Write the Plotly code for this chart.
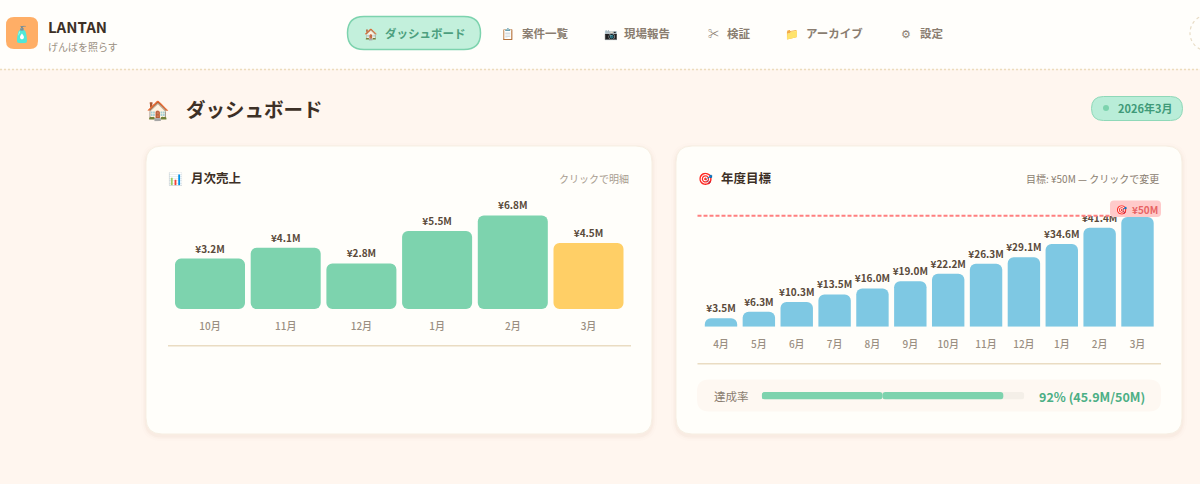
import plotly.graph_objects as go

W = 1200
H = 484
FONT = "Noto Sans CJK JP"

# monthly sales (left card)
sales_months = ["10月", "11月", "12月", "1月", "2月", "3月"]
sales_values = [3.2, 4.1, 2.8, 5.5, 6.8, 4.5]

# cumulative sales against the yearly target (right card)
goal_months = ["4月", "5月", "6月", "7月", "8月", "9月", "10月", "11月", "12月", "1月", "2月", "3月"]
goal_values = [3.5, 6.3, 10.3, 13.5, 16.0, 19.0, 22.2, 26.3, 29.1, 34.6, 41.4, 45.9]

achievement_rate = 92

nav_items = ["案件一覧", "現場報告", "検証", "アーカイブ", "設定"]
nav_icons = ["📋", "📷", "✂", "📁", "⚙"]
nav_text_x = [520, 622, 725, 804, 918]
nav_icon_x = [508, 611, 713, 792, 906]

GREEN = "#7dd3ae"
YELLOW = "#ffcf66"
BLUE = "#7ec8e3"
DARK = "#3d3026"
LABEL = "#5a4a3a"
MUTED = "#8a7d70"
LIGHT = "#a89c90"
CARD = "#fffefa"

# the bars in the left card all carry a fixed minimum height
SALES_FLOOR = 1.0


def px(x):
    return x / W


def py(y):
    return 1 - y / H


def rrect(x0, y0, x1, y1, r):
    return (f"M{px(x0 + r)},{py(y0)} L{px(x1 - r)},{py(y0)} Q{px(x1)},{py(y0)} {px(x1)},{py(y0 + r)} "
            f"L{px(x1)},{py(y1 - r)} Q{px(x1)},{py(y1)} {px(x1 - r)},{py(y1)} "
            f"L{px(x0 + r)},{py(y1)} Q{px(x0)},{py(y1)} {px(x0)},{py(y1 - r)} "
            f"L{px(x0)},{py(y0 + r)} Q{px(x0)},{py(y0)} {px(x0 + r)},{py(y0)} Z")


def box(x0, y0, x1, y1, r, fill, line=None, width=1, layer="below"):
    return dict(type="path", path=rrect(x0, y0, x1, y1, r), xref="paper", yref="paper", layer=layer,
                fillcolor=fill, line=dict(color=line or "rgba(0,0,0,0)", width=width if line else 0))


def hline(x0, x1, y, color, width, dash="solid", layer="below"):
    return dict(type="line", xref="paper", yref="paper", x0=px(x0), x1=px(x1), y0=py(y), y1=py(y),
                layer=layer, line=dict(color=color, width=width, dash=dash))


def label(x, y, text, size, color, weight=400, anchor="left"):
    return dict(x=px(x), y=py(y), xref="paper", yref="paper", text=text, showarrow=False, xanchor=anchor,
                yanchor="middle", font=dict(family=FONT, size=size, color=color, weight=weight))


shapes = []
for card_x0, card_x1 in [(146, 652), (676, 1182)]:
    for grow, alpha in [(5, 0.012), (3, 0.02), (1.5, 0.03)]:
        shapes.append(box(card_x0 - grow, 146 - grow + 2, card_x1 + grow, 434 + grow + 2, 16 + grow,
                          f"rgba(150,110,60,{alpha})"))
    shapes.append(box(card_x0, 146, card_x1, 434, 16, CARD, "#f7efe3", 1))

# header band
shapes.append(dict(type="rect", xref="paper", yref="paper", x0=0, x1=1, y0=py(69), y1=1, layer="below",
                   fillcolor="#fffefb", line=dict(width=0)))
shapes.append(hline(0, 1200, 69.5, "#ecdcbc", 1.5, "2px,2px"))
shapes.append(box(6, 17, 38, 49, 8, "#ffae66"))
shapes.append(box(347.5, 16.5, 480.5, 49.5, 16.5, "#c3f0dc", GREEN, 1.5))
shapes.append(dict(type="circle", xref="paper", yref="paper", x0=px(1190), x1=px(1226), y0=py(51), y1=py(15),
                   layer="below", line=dict(color="#e8dcc6", width=1.2, dash="3px,3px")))
shapes.append(box(1091.5, 96.5, 1182.5, 120.5, 12, "#b9edd8", "#8fd8b8", 1))
shapes.append(dict(type="circle", xref="paper", yref="paper", x0=px(1103), x1=px(1109), y0=py(111), y1=py(105),
                   layer="below", fillcolor=GREEN, line=dict(width=0)))

# dividers and the progress row
shapes.append(hline(168, 631, 345.7, "#eadcc2", 1.5))
shapes.append(hline(697.5, 1161, 363.7, "#eadcc2", 1.5))
shapes.append(box(697, 379.5, 1161, 411.5, 12, "#fef8f2"))

# target line sits in its own overlay in the page, above the bars and their labels
shapes.append(dict(type="rect", xref="paper", yref="paper", x0=px(697), x1=px(1162), y0=py(216), y1=py(205),
                   layer="above", fillcolor=CARD, line=dict(width=0)))
shapes.append(hline(697.5, 1110, 215.7, "#ff8080", 2, "4px,2px", layer="above"))
shapes.append(box(1110, 200.5, 1161, 217, 4, "#ffcaca", layer="above"))

annotations = [
    label(22, 33, "🧴", 16, DARK, anchor="center"),
    label(46, 26, "LANTAN", 15, DARK, 700),
    label(46, 46, "げんばを照らす", 10, "#9a8f82"),
    label(371, 33, "🏠", 11, DARK, anchor="center"),
    label(383, 33, "ダッシュボード", 11.5, "#4c9f7e", 700),
    label(158, 108, "🏠", 19, DARK, anchor="center"),
    label(184, 108, "ダッシュボード", 19.5, DARK, 700),
    label(1116, 108, "2026年3月", 11, "#3f9a78", 700),
    label(175, 177, "📊", 12, DARK, anchor="center"),
    label(189, 177, "月次売上", 12.5, DARK, 700),
    label(631, 178, "クリックで明細", 10, LIGHT, anchor="right"),
    label(705, 177, "🎯", 12, DARK, anchor="center"),
    label(719, 177, "年度目標", 12.5, DARK, 700),
    label(1161, 178, "目標: ¥50M — クリックで変更", 10, MUTED, anchor="right"),
    label(1121, 209, "🎯", 9, "#e86464", anchor="center"),
    label(1130, 209, "¥50M", 10, "#e86464", 700),
    label(712, 396, "達成率", 11.5, MUTED),
    label(1146.5, 396, f"{achievement_rate}% (45.9M/50M)", 12.5, "#4caf85", 700, "right"),
]
for text, x, icon, icon_x in zip(nav_items, nav_text_x, nav_icons, nav_icon_x):
    annotations.append(label(x, 33, text, 11.5, MUTED, 700))
    annotations.append(label(icon_x, 33, icon, 11, MUTED, anchor="center"))

fig = go.Figure()

fig.add_trace(go.Bar(
    x=sales_months,
    y=[v + SALES_FLOOR for v in sales_values],
    base=-SALES_FLOOR,
    text=[f"¥{v:.1f}M" for v in sales_values],
    marker=dict(color=[GREEN] * (len(sales_values) - 1) + [YELLOW], cornerradius=6, line=dict(width=0)),
    xaxis="x", yaxis="y"))

fig.add_trace(go.Bar(
    x=goal_months,
    y=goal_values,
    text=[f"¥{v:.1f}M" for v in goal_values],
    marker=dict(color=BLUE, cornerradius=6, line=dict(width=0)),
    xaxis="x2", yaxis="y2"))

fig.update_traces(textposition="outside", cliponaxis=False, textangle=0, constraintext="none",
                  textfont=dict(family=FONT, size=10, color=LABEL, weight=700))

# progress track and fill, each built from two halves so that both ends come out round
for total, color in [(100, "#f4efe8"), (achievement_rate, GREEN)]:
    fig.add_trace(go.Bar(y=["達成率", "達成率"], x=[total / 2, -total / 2], base=[total / 2, total / 2],
                         orientation="h", width=1, marker=dict(color=color, cornerradius=4, line=dict(width=0)),
                         xaxis="x3", yaxis="y3"))

hidden = dict(visible=False, fixedrange=True)
ticks = dict(ticks="outside", ticklen=8, tickcolor="rgba(0,0,0,0)", showgrid=False, zeroline=False, showline=False,
             tickfont=dict(family=FONT, size=10, color="#9a8f82", weight=500), type="category", tickangle=0)

fig.update_layout(
    width=W, height=H, margin=dict(l=0, r=0, t=0, b=0), autosize=False,
    paper_bgcolor="#fff6ef", plot_bgcolor="rgba(0,0,0,0)",
    showlegend=False, barmode="overlay", bargap=0.075,
    shapes=shapes, annotations=annotations,
    xaxis=dict(domain=[px(172.15), px(626.35)], anchor="y", **ticks),
    yaxis=dict(domain=[py(309), py(190)], anchor="x", range=[-SALES_FLOOR, 8.92], **hidden),
    xaxis2=dict(domain=[px(702.07), px(1156.43)], anchor="y2", **ticks),
    yaxis2=dict(domain=[py(326.7), py(190)], anchor="x2", range=[0, 57.2], **hidden),
    xaxis3=dict(domain=[px(761.7), px(1024.3)], anchor="y3", range=[0, 100], **hidden),
    yaxis3=dict(domain=[py(399.5), py(392)], anchor="x3", type="category", **hidden),
)

# per-subplot bar gap is not available, so set the right card through explicit widths
fig.data[1].width = 0.856
fig.data[0].width = 0.925

fig.write_html("out.html", config=dict(displayModeBar=False),
               post_script="document.body.style.margin='0';document.body.style.overflow='hidden';")
